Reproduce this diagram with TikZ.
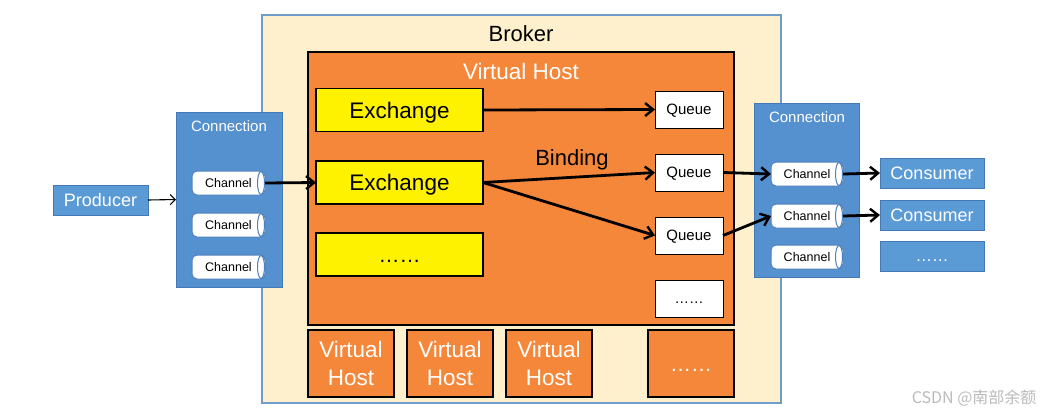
\documentclass[tikz,border=0pt]{standalone}
\usepackage{fontspec}
\setmainfont{Liberation Sans}
\newfontfamily\cjkfont{Noto Sans CJK SC}
\usetikzlibrary{arrows.meta}
\definecolor{brokerfill}{HTML}{FEF0CD}
\definecolor{brokerline}{HTML}{6F9CC9}
\definecolor{vhorange}{HTML}{F5873A}
\definecolor{connblue}{HTML}{5590CF}
\definecolor{connline}{HTML}{4579B5}
\definecolor{prodblue}{HTML}{5B9BD5}
\definecolor{exyellow}{HTML}{FFF200}
\definecolor{chanline}{HTML}{4F81BD}
\definecolor{wmgray}{HTML}{BBBBBB}
\newcommand{\fs}[1]{\fontsize{#1}{#1}\selectfont}
\tikzset{
  base/.style={rectangle, inner sep=0pt, outer sep=0pt, align=center},
  capc/.style={text height=#1, text depth=0pt},
  lab/.style={inner sep=0pt, outer sep=0pt},
  brokerbox/.style={base, draw=brokerline, line width=1.2pt, fill=brokerfill},
  vhbox/.style={base, draw=black, line width=2pt, fill=vhorange, text=white},
  exbox/.style={base, capc=16.2pt, draw=black, line width=1.5pt, fill=exyellow, minimum width=167pt, minimum height=43pt, font=\fs{22.5}},
  qbox/.style={base, capc=10.8pt, draw=black, line width=1pt, fill=white, minimum width=68pt, minimum height=37pt, font=\fs{15}},
  connbox/.style={base, draw=connline, line width=1pt, fill=connblue},
  conntext/.style={lab, capc=10.8pt, text=white, font=\fs{15}},
  chan/.style={base, capc=9pt, draw=chanline, line width=1pt, fill=white, rounded corners=5pt, minimum width=73pt, minimum height=24pt, font=\fs{12.5}},
  chanend/.style={draw=chanline, line width=1pt, fill=white},
  bluebox/.style={base, capc=13pt, draw=connline, line width=1pt, fill=prodblue, text=white, minimum height=30pt, font=\fs{18}},
  smallvh/.style={vhbox, minimum width=86pt, minimum height=67pt, font={\fontsize{22.5}{28}\selectfont}, line width=1.5pt},
  flow/.style={draw=black, line width=2.8pt, -{Straight Barb[length=8pt,width=13pt,line width=2.4pt]}},
  thinflow/.style={draw=black, line width=1.1pt, -{Straight Barb[length=5pt,width=10pt,line width=1.1pt]}},
}
\begin{document}
\begin{tikzpicture}[x=1pt,y=-1pt]
\useasboundingbox[fill=white] (0,0) rectangle (1044,416);
% Broker
\node[brokerbox, minimum width=519pt, minimum height=388pt] (broker) at (521.5,209) {};
\node[lab, capc=15.8pt, font=\fs{22}] (brokerlabel) at (521,34) {Broker};
% Virtual host
\node[vhbox, minimum width=426pt, minimum height=273pt] (vh) at (521,188.5) {};
\node[lab, capc=16.2pt, text=white, font=\fs{22.5}] (vhlabel) at (521,71) {Virtual Host};
% Exchanges
\node[exbox] (ex1) at (399.5,110) {Exchange};
\node[exbox] (ex2) at (399.5,182.5) {Exchange};
\node[exbox, capc=15.1pt, font=\fs{21}] (ex3) at (399.5,254.5) {……};
% Queues
\node[qbox] (q1) at (689,109.5) {Queue};
\node[qbox] (q2) at (689,172.5) {Queue};
\node[qbox] (q3) at (689,235.5) {Queue};
\node[qbox, capc=10.4pt, font=\fs{14.5}] (q4) at (689,298.5) {……};
\node[lab, capc=15.8pt, font=\fs{22}] (binding) at (572,158) {Binding};
% small virtual hosts
\node[smallvh] (vh1) at (351,363.5) {Virtual\\Host};
\node[smallvh] (vh2) at (450,363.5) {Virtual\\Host};
\node[smallvh] (vh3) at (549,363.5) {Virtual\\Host};
\node[smallvh, capc=15.1pt, font=\fs{21}] (vh4) at (691,363.5) {……};
% Left connection
\node[connbox, minimum width=106pt, minimum height=175pt] (connL) at (229,199.5) {};
\node[conntext] (connLlabel) at (229,126) {Connection};
\foreach \n/\y in {cl1/183, cl2/225, cl3/267}{
  \node[chan] (\n) at (228.5,\y) {Channel};
  \draw[chanend] ([xshift=-4pt]\n.east) ellipse [x radius=3.5pt, y radius=11.5pt];
}
% Right connection
\node[connbox, minimum width=105pt, minimum height=174pt] (connR) at (806.5,190) {};
\node[conntext] (connRlabel) at (807,117) {Connection};
\foreach \n/\y in {cr1/174, cr2/216, cr3/257}{
  \node[chan, minimum width=72pt] (\n) at (807,\y) {Channel};
  \draw[chanend] ([xshift=-4pt]\n.east) ellipse [x radius=3.5pt, y radius=11.5pt];
}
% Producer & consumers
\node[bluebox, minimum width=95pt] (prod) at (100.5,200) {Producer};
\node[bluebox, minimum width=104pt] (cons1) at (932,173) {Consumer};
\node[bluebox, minimum width=104pt] (cons2) at (932,215) {Consumer};
\node[bluebox, minimum width=104pt, capc=11.9pt, font=\fs{16.5}] (cons3) at (932,256) {……};
% arrows
\draw[thinflow] (prod.east) -- (connL.west);
\draw[flow] (cl1.east) -- (ex2.west);
\draw[flow] (ex1.east) -- (q1.west);
\draw[flow] (ex2.east) -- (q2.west);
\draw[flow] (ex2.east) -- (q3.west);
\draw[flow] (q2.east) -- (cr1.west);
\draw[flow] (q3.east) -- (cr2.west);
\draw[flow] (cr1.east) -- (cons1.west);
\draw[flow] (cr2.east) -- (cons2.west);
% watermark
\node[text=wmgray, font=\cjkfont\fs{16}, anchor=east] (wm) at (1040,398) {CSDN @南部余额};
\end{tikzpicture}
\end{document}
